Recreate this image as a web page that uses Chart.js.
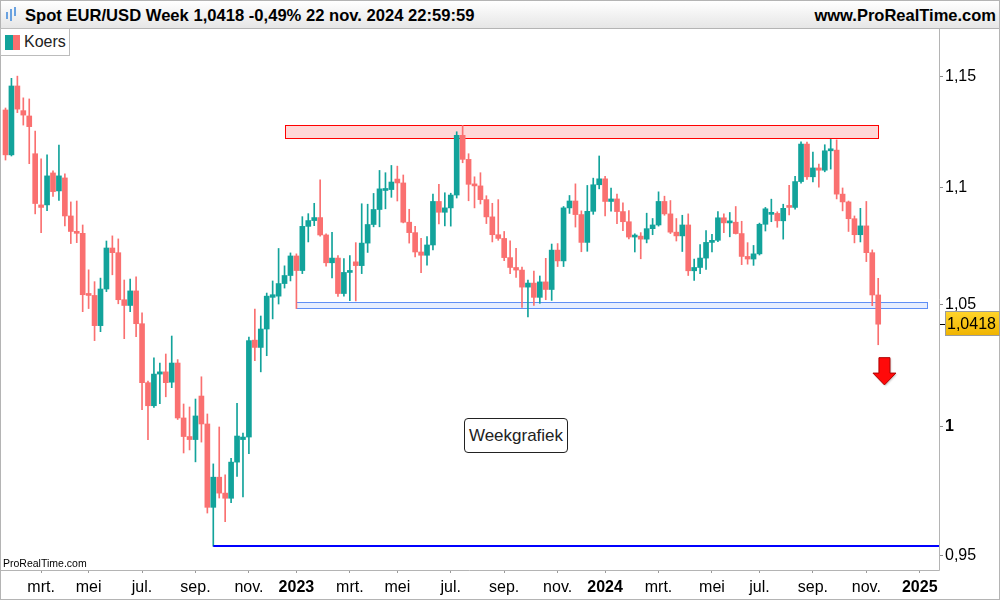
<!DOCTYPE html>
<html lang="nl">
<head>
<meta charset="utf-8">
<title>Spot EUR/USD Week</title>
<script src="https://cdn.jsdelivr.net/npm/chart.js@4.4.1/dist/chart.umd.min.js"></script>
<style>
  html, body { margin: 0; padding: 0; background: #fff; }
  body { width: 1000px; height: 600px; position: relative; overflow: hidden; font-family: "Liberation Sans", Arial, sans-serif; }
  #chart { position: absolute; left: 0; top: 0; }
  .header { position: absolute; left: 0; top: 0; width: 1000px; height: 29px; box-sizing: border-box;
            background: linear-gradient(#ffffff, #e6e6e6); border: 1px solid #b4b4b4; }
  .title { position: absolute; left: 24px; top: 5px; font-size: 16.6px; font-weight: bold; color: #000; white-space: nowrap; }
  .site { position: absolute; right: 3px; top: 5px; font-size: 16.5px; font-weight: bold; color: #000; white-space: nowrap; }
  .icon span { position: absolute; width: 2px; background: #6aa2e0; }
  .legend { position: absolute; left: 0; top: 28px; width: 70px; height: 28px; box-sizing: border-box;
            border: 1px solid #bcbcbc; background: #fff; }
  .legend .sw1 { position: absolute; left: 4px; top: 6px; width: 8px; height: 15px; background: #12a39b; }
  .legend .sw2 { position: absolute; left: 12px; top: 6px; width: 7px; height: 15px; background: #fa7070; }
  .legend .txt { position: absolute; left: 23px; top: 4px; font-size: 16px; color: #222; }
  .tag { position: absolute; left: 464px; top: 418px; width: 104px; height: 35px; box-sizing: border-box;
         border: 1px solid #222; border-radius: 4px; background: #fff; font-size: 17px; color: #222;
         text-align: center; line-height: 33px; }
  .mark { position: absolute; left: 3px; top: 557px; font-size: 10.5px; color: #000; }
</style>
</head>
<body>
<canvas id="chart" width="1000" height="600"></canvas>
<div class="header">
  <div class="icon">
    <span style="left:5px;top:11px;height:7px"></span>
    <span style="left:9px;top:8px;height:12px"></span>
    <span style="left:13px;top:6px;height:9px"></span>
  </div>
  <div class="title">Spot EUR/USD Week 1,0418 -0,49% 22 nov. 2024 22:59:59</div>
  <div class="site">www.ProRealTime.com</div>
</div>
<div class="legend"><div class="sw1"></div><div class="sw2"></div><div class="txt">Koers</div></div>
<div class="tag">Weekgrafiek</div>
<div class="mark">ProRealTime.com</div>
<script>
// Недельные свечи EUR/USD, первая свеча — неделя 24 янв. 2022
const opens = [
  1.1346, 1.1145, 1.1455, 1.1343, 1.1319, 1.1150, 1.0925, 1.0925, 1.1065, 1.0986,
  1.1043, 1.0877, 1.0810, 1.0802, 1.0545, 1.0538, 1.0412, 1.0565, 1.0739, 1.0719,
  1.0520, 1.0496, 1.0557, 1.0420, 1.0178, 1.0085, 1.0213, 1.0222, 1.0180, 1.0258,
  1.0036, 0.9962, 0.9950, 1.0124, 1.0012, 0.9685, 0.9802, 0.9740, 0.9720, 0.9861,
  0.9950, 0.9960, 1.0352, 1.0322, 1.0398, 1.0530, 1.0535, 1.0588, 1.0622, 1.0705,
  1.0643, 1.0832, 1.0857, 1.0870, 1.0795, 1.0676, 1.0696, 1.0546, 1.0635, 1.0680,
  1.0664, 1.0760, 1.0840, 1.0905, 1.0988, 1.0992, 1.1038, 1.1021, 1.0850, 1.0805,
  1.0722, 1.0708, 1.0752, 1.0940, 1.0893, 1.0912, 1.0968, 1.1232, 1.1125, 1.1015,
  1.1008, 1.0948, 1.0873, 1.0796, 1.0780, 1.0698, 1.0656, 1.0645, 1.0573, 1.0590,
  1.0530, 1.0595, 1.0563, 1.0730, 1.0684, 1.0912, 1.0942, 1.0883, 1.0763, 1.0897,
  1.1013, 1.1039, 1.0940, 1.0951, 1.0896, 1.0852, 1.0786, 1.0790, 1.0777, 1.0822,
  1.0838, 1.0940, 1.0886, 1.0807, 1.0791, 1.0838, 1.0642, 1.0656, 1.0696, 1.0763,
  1.0772, 1.0869, 1.0847, 1.0850, 1.0801, 1.0703, 1.0692, 1.0714, 1.0841, 1.0884,
  1.0888, 1.0856, 1.0920, 1.0914, 1.1027, 1.1193, 1.1048, 1.1087, 1.1077, 1.1163,
  1.1166, 1.0972, 1.0938, 1.0865, 1.0796, 1.0834, 1.0719, 1.0540
];
const highs = [
  1.1355, 1.1490, 1.1500, 1.1401, 1.1396, 1.1251, 1.1127, 1.1145, 1.1074, 1.1189,
  1.1061, 1.0938, 1.0942, 1.0838, 1.0646, 1.0596, 1.0611, 1.0769, 1.0791, 1.0778,
  1.0603, 1.0607, 1.0616, 1.0465, 1.0185, 1.0279, 1.0258, 1.0295, 1.0369, 1.0272,
  1.0092, 1.0080, 1.0112, 1.0202, 1.0052, 0.9854, 1.0000, 0.9811, 0.9876, 1.0095,
  0.9976, 1.0365, 1.0481, 1.0452, 1.0548, 1.0599, 1.0737, 1.0663, 1.0718, 1.0714,
  1.0874, 1.0887, 1.0932, 1.1035, 1.0800, 1.0806, 1.0707, 1.0694, 1.0707, 1.0762,
  1.0930, 1.0928, 1.0975, 1.1076, 1.1066, 1.1098, 1.1095, 1.1056, 1.0906, 1.0832,
  1.0780, 1.0788, 1.0972, 1.1015, 1.0978, 1.0976, 1.1248, 1.1276, 1.1150, 1.1048,
  1.1066, 1.0965, 1.0932, 1.0948, 1.0810, 1.0770, 1.0738, 1.0658, 1.0603, 1.0641,
  1.0620, 1.0695, 1.0756, 1.0758, 1.0918, 1.0966, 1.1017, 1.0899, 1.1010, 1.1042,
  1.1140, 1.1050, 1.0998, 1.0972, 1.0934, 1.0900, 1.0800, 1.0805, 1.0889, 1.0866,
  1.0982, 1.0963, 1.0944, 1.0866, 1.0880, 1.0886, 1.0692, 1.0754, 1.0814, 1.0798,
  1.0896, 1.0886, 1.0892, 1.0918, 1.0854, 1.0762, 1.0750, 1.0846, 1.0914, 1.0950,
  1.0895, 1.0928, 1.1010, 1.1050, 1.1203, 1.1202, 1.1157, 1.1104, 1.1190, 1.1214,
  1.1212, 1.0999, 1.0942, 1.0877, 1.0910, 1.0940, 1.0731, 1.0610
];
const lows = [
  1.1122, 1.1140, 1.1334, 1.1278, 1.1106, 1.0886, 1.0805, 1.0900, 1.0962, 1.0944,
  1.0834, 1.0758, 1.0762, 1.0470, 1.0483, 1.0350, 1.0387, 1.0554, 1.0625, 1.0503,
  1.0358, 1.0470, 1.0366, 1.0069, 0.9950, 1.0078, 1.0093, 1.0121, 1.0158, 1.0030,
  0.9897, 0.9909, 0.9862, 0.9940, 0.9663, 0.9536, 0.9721, 0.9630, 0.9703, 0.9805,
  0.9725, 0.9894, 1.0268, 1.0222, 1.0288, 1.0440, 1.0502, 1.0569, 1.0599, 1.0483,
  1.0630, 1.0765, 1.0835, 1.0790, 1.0662, 1.0612, 1.0534, 1.0535, 1.0516, 1.0515,
  1.0630, 1.0720, 1.0830, 1.0830, 1.0908, 1.0958, 1.0942, 1.0847, 1.0760, 1.0701,
  1.0634, 1.0666, 1.0731, 1.0843, 1.0834, 1.0833, 1.0955, 1.1110, 1.0943, 1.0912,
  1.0929, 1.0844, 1.0765, 1.0772, 1.0685, 1.0630, 1.0614, 1.0488, 1.0448, 1.0496,
  1.0505, 1.0520, 1.0517, 1.0660, 1.0660, 1.0888, 1.0829, 1.0723, 1.0725, 1.0884,
  1.0995, 1.0877, 1.0898, 1.0844, 1.0813, 1.0778, 1.0722, 1.0693, 1.0761, 1.0796,
  1.0833, 1.0880, 1.0801, 1.0769, 1.0724, 1.0622, 1.0601, 1.0630, 1.0648, 1.0722,
  1.0766, 1.0805, 1.0787, 1.0799, 1.0668, 1.0670, 1.0665, 1.0709, 1.0812, 1.0852,
  1.0828, 1.0777, 1.0882, 1.0906, 1.1020, 1.1036, 1.1025, 1.1002, 1.1070, 1.1082,
  1.0951, 1.0899, 1.0810, 1.0761, 1.0765, 1.0681, 1.0495, 1.0333
];
const closes = [
  1.1145, 1.1455, 1.1350, 1.1323, 1.1271, 1.0931, 1.0914, 1.1052, 1.0983, 1.1052,
  1.0877, 1.0810, 1.0802, 1.0541, 1.0538, 1.0412, 1.0565, 1.0739, 1.0719, 1.0520,
  1.0496, 1.0557, 1.0420, 1.0178, 1.0085, 1.0213, 1.0222, 1.0178, 1.0258, 1.0036,
  0.9962, 0.9950, 1.0044, 1.0012, 0.9685, 0.9802, 0.9740, 0.9720, 0.9861, 0.9964,
  0.9960, 1.0350, 1.0322, 1.0398, 1.0535, 1.0541, 1.0588, 1.0622, 1.0705, 1.0643,
  1.0832, 1.0857, 1.0870, 1.0795, 1.0676, 1.0696, 1.0546, 1.0635, 1.0642, 1.0664,
  1.0760, 1.0840, 1.0905, 1.0995, 1.0992, 1.1025, 1.1021, 1.0850, 1.0805, 1.0722,
  1.0708, 1.0752, 1.0940, 1.0893, 1.0912, 1.0968, 1.1232, 1.1125, 1.1015, 1.1008,
  1.0948, 1.0873, 1.0796, 1.0780, 1.0698, 1.0656, 1.0645, 1.0573, 1.0590, 1.0530,
  1.0595, 1.0563, 1.0730, 1.0684, 1.0912, 1.0942, 1.0883, 1.0763, 1.0897, 1.1013,
  1.1039, 1.0940, 1.0951, 1.0896, 1.0852, 1.0786, 1.0790, 1.0777, 1.0822, 1.0838,
  1.0940, 1.0886, 1.0807, 1.0791, 1.0838, 1.0642, 1.0656, 1.0696, 1.0763, 1.0772,
  1.0869, 1.0847, 1.0850, 1.0801, 1.0703, 1.0692, 1.0714, 1.0841, 1.0908, 1.0888,
  1.0856, 1.0910, 1.0914, 1.1027, 1.1193, 1.1048, 1.1087, 1.1077, 1.1163, 1.1166,
  1.0972, 1.0938, 1.0865, 1.0796, 1.0834, 1.0719, 1.0540, 1.0418
];

// Подписи оси времени: номер первой свечи месяца
const monthTicks = [6, 14, 23, 32, 41, 49, 58, 66, 75, 84, 93, 101, 110, 119, 127, 136, 145, 154];
const monthLabels = ['mrt.', 'mei', 'jul.', 'sep.', 'nov.', '2023', 'mrt.', 'mei', 'jul.', 'sep.', 'nov.', '2024',
                     'mrt.', 'mei', 'jul.', 'sep.', 'nov.', '2025'];
const priceTicks = [0.95, 1, 1.05, 1.1, 1.15];
const priceRange = [0.94462, 1.1718];

// Зоны и уровни: [от свечи, до свечи, нижняя цена, верхняя цена]
const resistanceZone = [47, 147, 1.1219, 1.1277];
const supportZone = [49, 155.15, 1.0484, 1.0509];
const lowLevel = [35, 0.9536];
// Стрелка вниз: [свеча, верх, основание головки, острие]
const arrowPoint = [148.05, 1.0280, 1.0217, 1.0169];

const upColor = '#12a39b';
const downColor = '#fa7070';

Chart.defaults.font.family = '"Liberation Sans", Arial, sans-serif';
Chart.defaults.font.size = 16;

function candleColor(c) {
    const i = c.dataIndex;
    return closes[i] >= opens[i] ? upColor : downColor;
}

function drawZone(ctx, x, y, zone, fill, stroke) {
    const x1 = Math.round(x.getPixelForValue(zone[0])) + 0.5;
    const x2 = Math.round(x.getPixelForValue(zone[1])) + 0.5;
    const y1 = Math.round(y.getPixelForValue(zone[3])) + 0.5;
    const y2 = Math.round(y.getPixelForValue(zone[2])) + 0.5;
    ctx.fillStyle = fill;
    ctx.fillRect(x1, y1, x2 - x1, y2 - y1);
    ctx.strokeStyle = stroke;
    ctx.lineWidth = 1;
    ctx.strokeRect(x1, y1, x2 - x1, y2 - y1);
}

const extras = {
    id: 'extras',
    beforeDatasetsDraw(chart) {
        const { ctx, scales: { x, y } } = chart;
        ctx.save();
        drawZone(ctx, x, y, resistanceZone, '#ffd7d7', '#ff0000');
        drawZone(ctx, x, y, supportZone, '#e6eeff', '#5f8ff5');
        ctx.restore();
    },
    afterDatasetsDraw(chart) {
        const { ctx, chartArea, scales: { x, y } } = chart;
        ctx.save();
        // Линия минимума 2022
        const ly = Math.round(y.getPixelForValue(lowLevel[1]));
        ctx.strokeStyle = '#0000ff';
        ctx.lineWidth = 2;
        ctx.beginPath();
        ctx.moveTo(x.getPixelForValue(lowLevel[0]), ly);
        ctx.lineTo(chartArea.right, ly);
        ctx.stroke();

        // Красная стрелка
        const ax = x.getPixelForValue(arrowPoint[0]);
        const yTop = y.getPixelForValue(arrowPoint[1]);
        const yBase = y.getPixelForValue(arrowPoint[2]);
        const yTip = y.getPixelForValue(arrowPoint[3]);
        ctx.beginPath();
        ctx.moveTo(ax - 5.5, yTop);
        ctx.lineTo(ax + 5.5, yTop);
        ctx.lineTo(ax + 5.5, yBase);
        ctx.lineTo(ax + 11.5, yBase);
        ctx.lineTo(ax, yTip);
        ctx.lineTo(ax - 11.5, yBase);
        ctx.lineTo(ax - 5.5, yBase);
        ctx.closePath();
        ctx.shadowColor = 'rgba(0,0,0,0.25)';
        ctx.shadowBlur = 2;
        ctx.shadowOffsetX = 1;
        ctx.shadowOffsetY = 1;
        ctx.fillStyle = '#ff0a0a';
        ctx.fill();
        ctx.shadowColor = 'transparent';
        ctx.strokeStyle = '#b00000';
        ctx.lineWidth = 1;
        ctx.stroke();
        ctx.restore();
    },
    afterDraw(chart) {
        const { ctx, chartArea, scales: { y } } = chart;
        ctx.save();
        // Рамки панелей
        ctx.strokeStyle = '#b4b4b4';
        ctx.lineWidth = 1;
        ctx.beginPath();
        ctx.moveTo(0.5, 0);
        ctx.lineTo(0.5, 600);
        ctx.moveTo(0, chartArea.bottom + 0.5);
        ctx.lineTo(chartArea.right + 0.5, chartArea.bottom + 0.5);
        ctx.moveTo(chartArea.right + 0.5, chartArea.top);
        ctx.lineTo(chartArea.right + 0.5, chartArea.bottom + 0.5);
        ctx.moveTo(0, 599.5);
        ctx.lineTo(1000, 599.5);
        ctx.moveTo(999.5, 0);
        ctx.lineTo(999.5, 600);
        ctx.stroke();

        // Метка последней цены
        const last = closes[closes.length - 1];
        const py = Math.round(y.getPixelForValue(last));
        const g = ctx.createLinearGradient(0, py - 12, 0, py + 12);
        g.addColorStop(0, '#ffd42a');
        g.addColorStop(1, '#efb300');
        ctx.fillStyle = g;
        ctx.fillRect(945.5, py - 12.5, 54, 24);
        ctx.strokeStyle = '#9c9c9c';
        ctx.strokeRect(945.5, py - 12.5, 54, 24);
        ctx.strokeStyle = '#000';
        ctx.beginPath();
        ctx.moveTo(chartArea.right + 1, py + 0.5);
        ctx.lineTo(945, py + 0.5);
        ctx.stroke();
        ctx.fillStyle = '#000';
        ctx.font = '16px "Liberation Sans", Arial, sans-serif';
        ctx.textBaseline = 'middle';
        ctx.fillText(last.toFixed(4).replace('.', ','), 947, py + 1);
        ctx.restore();
    }
};

const ctx = document.getElementById('chart').getContext('2d');

new Chart(ctx, {
    type: 'bar',
    data: {
        datasets: [
            {
                label: 'body',
                data: opens.map((o, i) => ({ x: i, y: [o, closes[i]] })),
                backgroundColor: candleColor,
                barThickness: 5,
                minBarLength: 2,
                grouped: false
            },
            {
                label: 'wick',
                data: opens.map((o, i) => ({ x: i, y: [lows[i], highs[i]] })),
                backgroundColor: candleColor,
                barThickness: 1,
                grouped: false
            }
        ]
    },
    options: {
        responsive: false,
        animation: false,
        devicePixelRatio: 1,
        layout: { padding: { top: 29, left: 1, right: 0, bottom: 0 } },
        plugins: {
            legend: { display: false },
            tooltip: { enabled: false }
        },
        scales: {
            x: {
                type: 'linear',
                min: -0.758,
                max: 157.24,
                offset: false,
                grid: { display: true, offset: false, drawOnChartArea: false, drawTicks: true, tickLength: 3, color: '#9a9a9a' },
                border: { display: false },
                afterBuildTicks: (scale) => {
                    scale.ticks = monthTicks.map(v => ({ value: v }));
                },
                afterFit: (scale) => { scale.height = 30; },
                ticks: {
                    autoSkip: false,
                    maxRotation: 0,
                    padding: 5,
                    color: '#000',
                    callback: (value, index) => monthLabels[index],
                    font: (c) => ({ size: 16, weight: /^\d{4}$/.test(monthLabels[c.index] || '') ? 'bold' : 'normal' })
                }
            },
            y: {
                type: 'logarithmic',
                position: 'right',
                min: priceRange[0],
                max: priceRange[1],
                beginAtZero: false,
                bounds: 'data',
                grid: { display: true, drawOnChartArea: false, drawTicks: true, tickLength: 4, color: '#8a8a8a' },
                border: { display: false },
                afterBuildTicks: (scale) => {
                    // Chart.js округляет минимум лог-шкалы, возвращаем точные границы
                    scale.min = priceRange[0];
                    scale.max = priceRange[1];
                    scale.ticks = priceTicks.map(v => ({ value: v }));
                },
                afterFit: (scale) => { scale.width = 61; },
                ticks: {
                    padding: 2,
                    color: '#000',
                    callback: (value) => String(value).replace('.', ','),
                    font: (c) => ({ size: 16, weight: c.tick && c.tick.value === 1 ? 'bold' : 'normal' })
                }
            }
        }
    },
    plugins: [extras]
});
</script>
</body>
</html>
